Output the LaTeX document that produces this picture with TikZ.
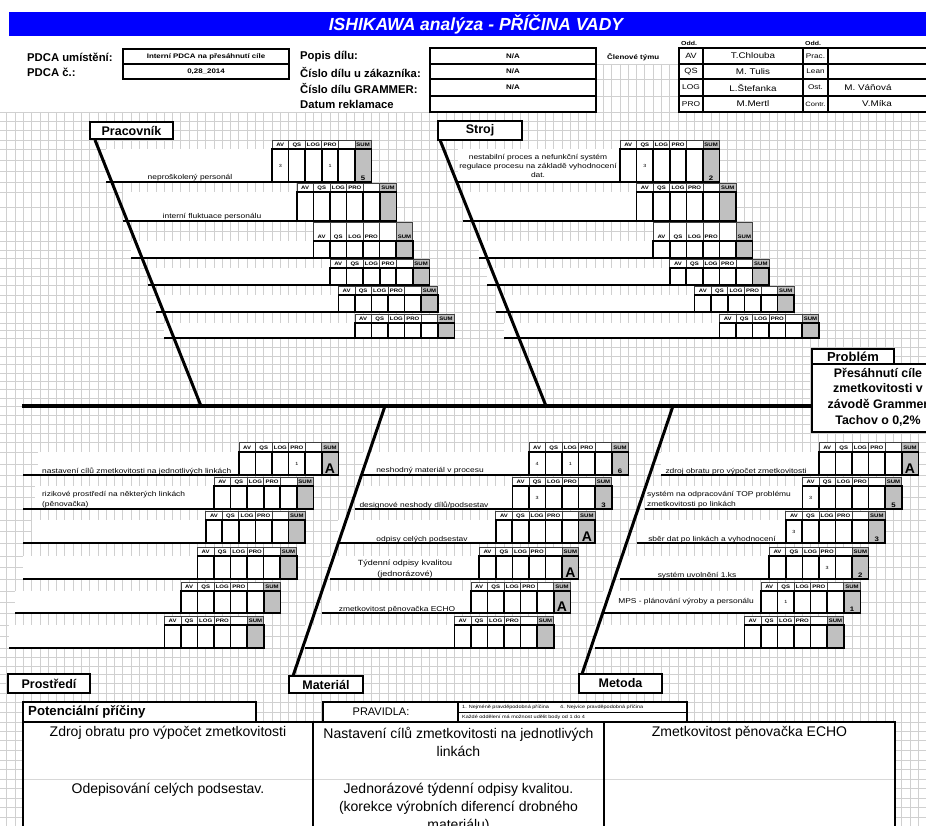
\documentclass[tikz,border=0pt]{standalone}
\usepackage{fontspec}
\setmainfont{Liberation Sans}
\newfontfamily\widesans[FakeStretch=1.2]{Liberation Sans}
\newcommand{\setfs}[1]{\fontsize{#1}{#1}\selectfont}
\definecolor{gridgray}{RGB}{208,208,208}
\definecolor{sumgray}{RGB}{192,192,192}
\definecolor{titleblue}{RGB}{0,0,255}
\definecolor{rowgray}{RGB}{215,215,215}

\tikzset{
  gridln/.style={draw=gridgray, line width=0.8pt},
  hdrcell/.style={draw=black!75, line width=0.7pt},
  datcell/.style={draw=black, line width=1.6pt},
  ribln/.style={line width=2.2pt},
  boneln/.style={line width=3pt},
  spineln/.style={line width=4pt},
  boxln/.style={draw=black, line width=1.2pt},
  hdrtxt/.style={font=\widesans\bfseries\setfs{5.0}, inner sep=0, anchor=base},
  valtxt/.style={font=\widesans\setfs{4.5}, inner sep=0},
  ribtxt/.style={font=\widesans\setfs{7}, inner sep=0},
  catbox/.style={draw, line width=1.3pt, fill=white, inner sep=0, outer sep=0, font=\bfseries\setfs{12.5}},
  headlbl/.style={font=\bfseries\setfs{11.3}, inner sep=0, anchor=west},
  smallbold/.style={font=\widesans\bfseries\setfs{6.6}, inner sep=0},
  teamtxt/.style={font=\widesans\setfs{8.2}, inner sep=0},
  teamcode/.style={font=\widesans\setfs{7.6}, inner sep=0},
  causetxt/.style={font=\fontsize{14}{18}\selectfont, inner sep=0, align=center},
}

\newcommand{\sumA}{\bfseries\setfs{14}A}
\newcommand{\sumN}[1]{\widesans\bfseries\setfs{6.5}#1}

% one rib of the fishbone with its scoring table
% #1 name, #2 rib start x, #3 white start x, #4 table x, #5 header top,
% #6 data top, #7 rib y, #8 AV/QS/LOG/PRO values, #9 SUM content
\newcommand{\fishrib}[9]{%
  \fill[white] (#3,#6) rectangle (#4,#7);
  \fill[white] (#4,#5) rectangle ({#4+99.43},#7);
  \fill[sumgray] ({#4+82.86},#5) rectangle ({#4+99.43},#7);
  \foreach \cc in {0,...,5}{%
    \draw[hdrcell] ({#4+\cc*16.572},#5) rectangle ({#4+\cc*16.572+16.572},#6);
    \draw[datcell] ({#4+\cc*16.572},#6) rectangle ({#4+\cc*16.572+16.572},#7);}
  \foreach \hd [count=\cc from 0] in {AV,QS,LOG,PRO,{},SUM}{%
    \node[hdrtxt] (#1-h\cc) at ({#4+\cc*16.572+8.286},{#6-2.6}) {\hd};}
  \foreach \vl [count=\cc from 0] in {#8}{%
    \node[valtxt] (#1-v\cc) at ({#4+\cc*16.572+8.286},{(#6+#7)/2}) {\vl};}
  \node[anchor=south, inner sep=1.2pt] (#1-sum) at ({#4+91.14},#7) {#9};
  \coordinate (#1-a) at (#2,#7);
  \coordinate (#1-b) at ({#4+99.43},#7);
  \draw[ribln] (#1-a) -- (#1-b);
}

\begin{document}
\begin{tikzpicture}[x=1pt,y=-1pt]
\useasboundingbox (0,0) rectangle (926,826);
\fill[white] (0,0) rectangle (926,826);

% ---------- sheet grid ----------
\foreach \k in {0,...,112}{\draw[gridln] ({-1.43+\k*8.286},112) -- ({-1.43+\k*8.286},826);}
\foreach \yy in {112,121,130,140,149,160,171,182,192,207,221,231,241,250,258,268,276,285,295,303,312,323,330,338,347,356,364,373,381,389,398,406,415,424,433,442,452,464,475,486,497,509,520,531,543,556,567,579,591,602,613,625,636,648,657,666,674,683,693,702,712,722,731,740,750,760,769,779,788,798,807,817,826}{\draw[gridln] (0,\yy) -- (926,\yy);}
\foreach \k in {73,...,81}{\draw[gridln] ({-1.43+\k*8.286},64) -- ({-1.43+\k*8.286},112);}
\foreach \yy in {64,79,96}{\draw[gridln] (597,\yy) -- (679,\yy);}

% ---------- title ----------
\fill[titleblue] (9,12) rectangle (926,36);
\node[font=\bfseries\itshape\setfs{17.5}, text=white, inner sep=0] (title) at (476,24.5) {ISHIKAWA analýza - PŘÍČINA VADY};

% ---------- header ----------
\node[headlbl] (pdcaum) at (27,57) {PDCA umístění:};
\node[headlbl] (pdcanr) at (27,72) {PDCA č.:};
\draw[boxln] (123,49) rectangle (289,79);
\draw[boxln] (123,64) -- (289,64);
\node[smallbold] (pdcaval) at (206,56.5) {Interní PDCA na přesáhnutí cíle};
\node[smallbold] (pdcanum) at (206,71.5) {0,28\_2014};

\node[headlbl] (popis) at (300,57) {Popis dílu:};
\node[headlbl] (ciszak) at (300,72) {Číslo dílu u zákazníka:};
\node[headlbl] (cisgr) at (300,88) {Číslo dílu GRAMMER:};
\node[headlbl] (datum) at (300,104) {Datum reklamace};
\draw[boxln] (430,48) rectangle (596,112);
\foreach \yy in {64,79,96}{\draw[boxln] (430,\yy) -- (596,\yy);}
\node[smallbold] (na1) at (513,56) {N/A};
\node[smallbold] (na2) at (513,71.5) {N/A};
\node[smallbold] (na3) at (513,87.5) {N/A};

\node[smallbold, anchor=west] (clen) at (607,57) {Členové týmu};
\node[font=\widesans\bfseries\setfs{5.8}, inner sep=0, anchor=west] (odd1) at (681,43) {Odd.};
\node[font=\widesans\bfseries\setfs{5.8}, inner sep=0, anchor=west] (odd2) at (805,43) {Odd.};
\draw[boxln] (679,48) rectangle (940,112);
\foreach \xx in {703,803,828}{\draw[boxln] (\xx,48) -- (\xx,112);}
\foreach \yy in {64,79,96}{\draw[boxln] (679,\yy) -- (940,\yy);}
\node[teamcode] (t11) at (691,56) {AV};
\node[teamcode] (t21) at (691,71.5) {QS};
\node[teamcode, font=\widesans\setfs{7.0}] (t31) at (691,87.5) {LOG};
\node[teamcode, font=\widesans\setfs{7.0}] (t41) at (691,104) {PRO};
\node[teamtxt] (t12) at (753,56) {T.Chlouba};
\node[teamtxt] (t22) at (753,71.5) {M. Tulis};
\node[teamtxt] (t32) at (753,87.5) {L.Štefanka};
\node[teamtxt] (t42) at (753,104) {M.Mertl};
\node[teamcode, font=\widesans\setfs{6.8}] (t13) at (815.5,56) {Prac.};
\node[teamcode, font=\widesans\setfs{6.8}] (t23) at (815.5,71.5) {Lean};
\node[teamcode, font=\widesans\setfs{6.8}] (t33) at (815.5,87.5) {Ost.};
\node[teamcode, font=\widesans\setfs{6.3}] (t43) at (815.5,104) {Contr.};
\node[teamtxt] (t34) at (868,87.5) {M. Váňová};
\node[teamtxt] (t44) at (877,104) {V.Míka};

% ---------- ribs: Pracovník ----------
\fishrib{p1}{106.3}{106.3}{272.0}{140}{149}{182}{3,{},{},1}{\sumN{5}}
\fishrib{p2}{122.9}{122.9}{296.9}{183}{192}{221}{}{}
\fishrib{p3}{131.1}{131.1}{313.4}{222}{241}{258}{}{}
\fishrib{p4}{147.7}{147.7}{330.0}{259}{268}{285}{}{}
\fishrib{p5}{156.0}{156.0}{338.3}{286}{295}{312}{}{}
\fishrib{p6}{164.3}{164.3}{354.9}{314}{323}{338}{}{}
\node[ribtxt, anchor=base] (p1t) at (190,180) {neproškolený personál};
\node[ribtxt, anchor=base] (p2t) at (212,219) {interní fluktuace personálu};

% ---------- ribs: Stroj ----------
\fishrib{s1}{458.3}{458.3}{620.0}{140}{149}{182}{{},3}{\sumN{2}}
\fishrib{s2}{462.6}{462.6}{636.6}{183}{192}{221}{}{}
\fishrib{s3}{479.2}{479.2}{653.2}{222}{241}{258}{}{}
\fishrib{s4}{487.4}{487.4}{669.7}{259}{268}{285}{}{}
\fishrib{s5}{495.7}{495.7}{694.6}{286}{295}{312}{}{}
\fishrib{s6}{504.0}{504.0}{719.4}{314}{323}{338}{}{}
\node[ribtxt, align=center, font=\widesans\fontsize{7}{9}\selectfont] (s1t) at (538,166) {nestabilní proces a nefunkční systém\\regulace procesu na základě vyhodnocení\\dat.};

% ---------- ribs: Prostředí ----------
\fishrib{l1}{23}{38}{238.9}{442}{452}{475}{{},{},{},1}{\sumA}
\fishrib{l2}{23}{35}{214.0}{477}{486}{509}{}{}
\fishrib{l3}{23}{32}{205.7}{511}{520}{543}{}{}
\fishrib{l4}{23}{23}{197.4}{547}{556}{579}{}{}
\fishrib{l5}{15}{15}{180.9}{582}{591}{613}{}{}
\fishrib{l6}{9}{9}{164.3}{616}{625}{648}{}{}
\node[ribtxt, anchor=base west] (l1t) at (42,473) {nastavení cílů zmetkovitosti na jednotlivých linkách};
\node[ribtxt, anchor=west, align=left, font=\widesans\fontsize{7}{10}\selectfont] (l2t) at (42,500) {rizikové prostředí na některých linkách\\(pěnovačka)};

% ---------- ribs: Materiál ----------
\fishrib{m1}{363.1}{363.1}{528.9}{442}{452}{475}{4,{},1}{\sumN{6}}
\fishrib{m2}{354.9}{354.9}{512.3}{477}{486}{509}{{},3}{\sumN{3}}
\fishrib{m3}{338.3}{338.3}{495.7}{511}{520}{543}{}{\sumA}
\fishrib{m4}{330.0}{330.0}{479.2}{547}{556}{579}{}{\sumA}
\fishrib{m5}{321.7}{321.7}{470.9}{582}{591}{613}{}{\sumA}
\fishrib{m6}{305.1}{305.1}{454.3}{616}{625}{648}{}{}
\node[ribtxt, anchor=base] (m1t) at (430,472) {neshodný materiál v procesu};
\node[ribtxt, anchor=base] (m2t) at (424,507) {designové neshody dílů/podsestav};
\node[ribtxt, anchor=base] (m3t) at (422,541) {odpisy celých podsestav};
\node[ribtxt, align=center, font=\widesans\fontsize{7.5}{11}\selectfont] (m4t) at (405,569.5) {Týdenní odpisy kvalitou\\(jednorázové)};
\node[ribtxt, anchor=base] (m5t) at (397,611) {zmetkovitost pěnovačka ECHO};

% ---------- ribs: Metoda ----------
\fishrib{e1}{661.4}{661.4}{818.9}{442}{452}{475}{}{\sumA}
\fishrib{e2}{644.9}{644.9}{802.3}{477}{486}{509}{3}{\sumN{5}}
\fishrib{e3}{636.6}{636.6}{785.7}{511}{520}{543}{3}{\sumN{3}}
\fishrib{e4}{620.0}{620.0}{769.2}{547}{556}{579}{{},{},{},3}{\sumN{2}}
\fishrib{e5}{603.4}{603.4}{760.9}{582}{591}{613}{{},1}{\sumN{1}}
\fishrib{e6}{595.2}{595.2}{744.3}{616}{625}{648}{}{}
\node[ribtxt, anchor=base] (e1t) at (736,473) {zdroj obratu pro výpočet zmetkovitosti};
\node[ribtxt, anchor=west, align=left, font=\widesans\fontsize{7}{10}\selectfont] (e2t) at (647,500) {systém na odpracování TOP problému\\zmetkovitosti po linkách};
\node[ribtxt, anchor=base] (e3t) at (712,541) {sběr dat po linkách a vyhodnocení};
\node[ribtxt, anchor=base] (e4t) at (697,577) {systém uvolnění 1.ks};
\node[ribtxt] (e5t) at (686,602) {MPS - plánování výroby a personálu};

% ---------- category boxes and bones ----------
\node[catbox, minimum width=83pt, minimum height=17pt] (prac) at (131.5,130.5) {Pracovník};
\node[catbox, minimum width=84pt, minimum height=19pt] (stroj) at (480,130.5) {Stroj};
\node[catbox, minimum width=82pt, minimum height=19pt] (prost) at (49,683.5) {Prostředí};
\node[catbox, minimum width=74pt, minimum height=17pt] (mater) at (326,684.5) {Materiál};
\node[catbox, minimum width=83pt, minimum height=19pt] (metoda) at (620.5,683.5) {Metoda};

\coordinate (prac-top) at (95,140);
\coordinate (prac-end) at (201,406);
\coordinate (stroj-top) at (440,140);
\coordinate (stroj-end) at (546,406);
\coordinate (mater-top) at (293,676);
\coordinate (mater-end) at (385,406);
\coordinate (metoda-top) at (582,674);
\coordinate (metoda-end) at (673,406);
\draw[boneln] (prac-top) -- (prac-end);
\draw[boneln] (stroj-top) -- (stroj-end);
\draw[boneln] (mater-top) -- (mater-end);
\draw[boneln] (metoda-top) -- (metoda-end);

% ---------- spine and problem ----------
\coordinate (spine-l) at (22,406);
\coordinate (spine-r) at (812,406);
\draw[spineln] (spine-l) -- (spine-r);
\node[catbox, font=\bfseries\setfs{13}, minimum width=82pt, minimum height=15pt] (problem) at (853,356.5) {Problém};
\node[draw, line width=1.3pt, fill=white, anchor=north west, minimum width=130pt, minimum height=68pt, inner sep=0, outer sep=0] (probbox) at (812,364) {};
\node[font=\bfseries\fontsize{12.4}{15.7}\selectfont, align=center, inner sep=0] (probtext) at (878,397) {Přesáhnutí cíle\\zmetkovitosti v\\závodě Grammer\\Tachov o 0,2\%};

% ---------- potential causes ----------
\node[draw, line width=1.3pt, fill=white, anchor=north west, minimum width=233pt, minimum height=20pt, inner sep=0, outer sep=0] (potbox) at (23,702) {};
\node[font=\bfseries\setfs{13.2}, inner sep=0, anchor=west] (pottxt) at (28,712) {Potenciální příčiny};
\node[draw, line width=1.2pt, fill=white, anchor=north west, minimum width=135pt, minimum height=20pt, inner sep=0, outer sep=0] (pravbox) at (323,702) {};
\node[font=\setfs{11}, inner sep=0] (pravtxt) at (381,712) {PRAVIDLA:};
\node[draw, line width=1.2pt, fill=white, anchor=north west, minimum width=229pt, minimum height=20pt, inner sep=0, outer sep=0] (rulebox) at (458,702) {};
\draw[line width=1pt] (rulebox.west) -- (rulebox.east);
\node[font=\widesans\setfs{4.6}, inner sep=0, anchor=west] (rule1) at (462,707) {1. Nejméně pravděpodobná příčina};
\node[font=\widesans\setfs{4.6}, inner sep=0, anchor=west] (rule4) at (560,707) {4. Nejvíce pravděpodobná příčina};
\node[font=\widesans\setfs{4.6}, inner sep=0, anchor=west] (rule2) at (462,717) {Každé oddělení má možnost udělit body od 1 do 4};

\node[draw, line width=1.3pt, fill=white, anchor=north west, minimum width=872pt, minimum height=130pt, inner sep=0, outer sep=0] (causes) at (23,722) {};
\draw[draw=rowgray, line width=1pt] (24,779) -- (894,779);
\draw[line width=1.3pt] (313,722) -- (313,830);
\draw[line width=1.3pt] (604,722) -- (604,830);
\node[causetxt] (c11) at (168,733) {Zdroj obratu pro výpočet zmetkovitosti};
\node[causetxt] (c21) at (458.5,742) {Nastavení cílů zmetkovitosti na jednotlivých\\linkách};
\node[causetxt] (c31) at (749.5,733) {Zmetkovitost pěnovačka ECHO};
\node[causetxt] (c12) at (168,790) {Odepisování celých podsestav.};
\node[causetxt] (c22) at (458.5,808) {Jednorázové týdenní odpisy kvalitou.\\(korekce výrobních diferencí drobného\\materiálu)};
\end{tikzpicture}
\end{document}
